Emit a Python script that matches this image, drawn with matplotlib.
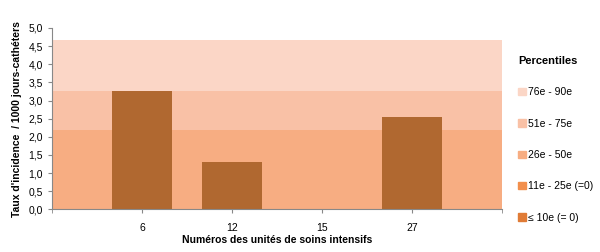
import matplotlib.pyplot as plt
from matplotlib.patches import Patch

# data
units = ["6", "12", "15", "27"]
taux = [3.27, 1.31, 0.0, 2.55]

# percentile band limits (cumulative)
pct_labels = ["\u2264 10e (= 0)", "11e - 25e (=0)", "26e - 50e", "51e - 75e", "76e - 90e"]
pct_limits = [0.0, 0.0, 2.2, 3.26, 4.66]
pct_colors = ["#E07B36", "#F28F4C", "#F7AD82", "#F9C1A6", "#FBD6C6"]

bar_color = "#B06830"

plt.rcParams['font.family'] = ['Liberation Sans', 'DejaVu Sans']

fig = plt.figure(figsize=(6, 2.52), dpi=100)
ax = fig.add_axes([0.087, 0.169, 0.75, 0.72])

n = len(units) + 1
lower = 0.0
for lim, col in zip(pct_limits, pct_colors):
    ax.axhspan(lower, lim, color=col, lw=0, zorder=0)
    lower = lim

xs = list(range(1, len(units) + 1))
ax.bar(xs, taux, width=0.667, color=bar_color, zorder=2)

ax.set_xlim(0, n)
ax.set_ylim(0, 5)
ax.set_yticks([i * 0.5 for i in range(11)])
ax.set_yticklabels([("%.1f" % (i * 0.5)).replace(".", ",") for i in range(11)], fontsize=7.5)
ax.set_xticks(xs)
ax.set_xticklabels(units, fontsize=7.5)
ax.set_xticks([0, n], minor=True)
ax.tick_params(axis="both", direction="out", length=3, color="#888888", width=0.8)
ax.tick_params(axis="x", which="minor", direction="out", length=3, color="#888888")
ax.tick_params(axis="x", pad=7)
for s in ["top", "right"]:
    ax.spines[s].set_visible(False)
for s in ["left", "bottom"]:
    ax.spines[s].set_color("#888888")
    ax.spines[s].set_linewidth(0.8)

ax.set_xlabel("Numéros des unités de soins intensifs", fontsize=7.5, fontweight="bold", labelpad=1)
ax.set_ylabel("Taux d'incidence  / 1000 jours-cathéters", fontsize=7.5, fontweight="bold", labelpad=5)

handles = [Patch(color=c) for c in pct_colors][::-1]
leg = fig.legend(handles, pct_labels[::-1], title="Percentiles", loc="upper left",
                 bbox_to_anchor=(0.857, 0.795), frameon=False, fontsize=7.5,
                 title_fontproperties={"weight": "bold", "size": 8},
                 handlelength=0.7, handleheight=0.7, handletextpad=0.2,
                 labelspacing=2.05, borderaxespad=0)
leg._legend_box.align = "left"

fig.savefig("out.png", dpi=100)
